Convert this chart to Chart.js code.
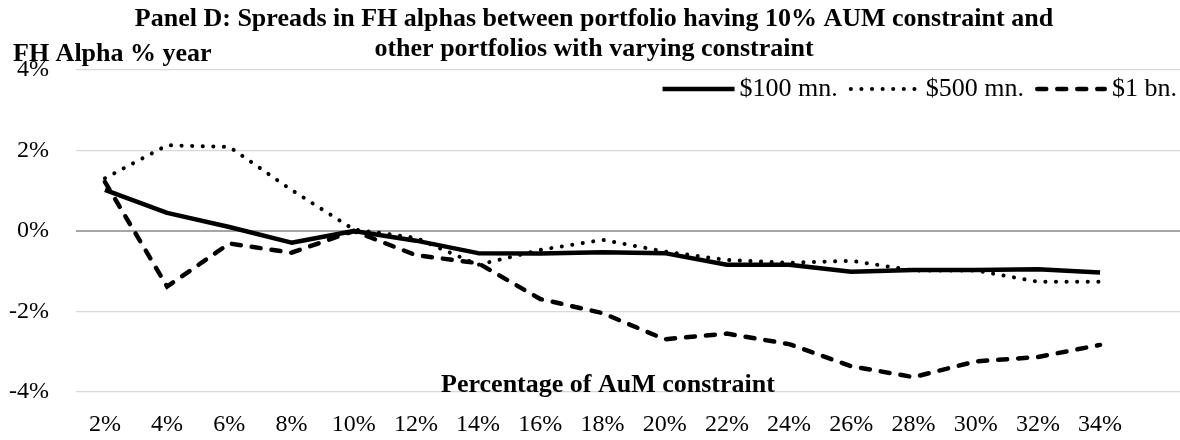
<!DOCTYPE html>
<html lang="en">
<head>
    <meta charset="UTF-8">
    <title>Panel D: Spreads in FH alphas</title>
    <script src="https://cdn.jsdelivr.net/npm/chart.js"></script>
    <style>
        html, body {
            margin: 0;
            padding: 0;
            background: #fff;
        }
        .chart-container {
            width: 1180px;
            height: 440px;
            position: relative;
        }
    </style>
</head>
<body>

    <div class="chart-container">
        <canvas id="alphaChart"></canvas>
    </div>

    <script>
        // AuM constraint (%) on the x axis
        const constraintPct = [2, 4, 6, 8, 10, 12, 14, 16, 18, 20, 22, 24, 26, 28, 30, 32, 34];

        // FH alpha spreads, % per year
        const spread100mn = [1.02, 0.45, 0.1, -0.29, 0, -0.24, -0.55, -0.56, -0.53, -0.55, -0.84, -0.84, -1.01, -0.97, -0.97, -0.95, -1.03];
        const spread500mn = [1.31, 2.13, 2.09, 1.02, 0.04, -0.17, -0.84, -0.47, -0.22, -0.51, -0.72, -0.79, -0.74, -0.98, -0.98, -1.26, -1.26];
        const spread1bn   = [1.22, -1.38, -0.31, -0.54, 0, -0.6, -0.8, -1.69, -2.04, -2.69, -2.55, -2.81, -3.36, -3.63, -3.24, -3.13, -2.83];

        const seriesNames = ['$100 mn.', '$500 mn.', '$1 bn.'];
        const yTicks = [-4, -2, 0, 2, 4];

        const serif = "'Liberation Serif', 'Times New Roman', serif";

        function toPoints(values) {
            return values.map((v, i) => ({ x: constraintPct[i], y: v }));
        }

        // axis titles and legend sit inside the plot like in the Excel original
        const excelExtras = {
            id: 'excelExtras',
            afterDraw(chart) {
                const ctx = chart.ctx;
                const area = chart.chartArea;
                ctx.save();
                ctx.fillStyle = '#000';
                ctx.strokeStyle = '#000';
                ctx.font = 'bold 26px ' + serif;
                ctx.textBaseline = 'alphabetic';
                ctx.textAlign = 'left';
                ctx.fillText('FH Alpha % year', 13, area.top - 9);
                ctx.textAlign = 'center';
                ctx.fillText('Percentage of AuM constraint', area.left + 532, area.bottom);

                // legend: short line sample + label, right aligned
                const lineLen = 72, textGap = 5, itemGap = 11;
                ctx.font = '26px ' + serif;
                const sets = chart.data.datasets;
                let total = 0;
                sets.forEach((ds, i) => {
                    total += lineLen + textGap + ctx.measureText(ds.label).width;
                    if (i > 0) total += itemGap;
                });
                let x = area.right - 3 - total;
                const y = area.top + 19;
                ctx.textAlign = 'left';
                ctx.textBaseline = 'middle';
                sets.forEach(ds => {
                    const cap = ds.borderCapStyle || 'butt';
                    const inset = cap === 'round' ? ds.borderWidth / 2 : 0;
                    ctx.lineWidth = ds.borderWidth;
                    ctx.lineCap = cap;
                    ctx.setLineDash(ds.borderDash || []);
                    ctx.beginPath();
                    ctx.moveTo(x + inset, y);
                    ctx.lineTo(x + lineLen - inset, y);
                    ctx.stroke();
                    ctx.setLineDash([]);
                    x += lineLen + textGap;
                    ctx.fillText(ds.label, x, y);
                    x += ctx.measureText(ds.label).width + itemGap;
                });
                ctx.restore();
            }
        };

        const ctx = document.getElementById('alphaChart').getContext('2d');
        const alphaChart = new Chart(ctx, {
            type: 'line',
            data: {
                datasets: [{
                    label: seriesNames[0],
                    data: toPoints(spread100mn),
                    borderColor: '#000',
                    borderWidth: 4.5,
                    borderJoinStyle: 'round',
                    pointRadius: 0
                }, {
                    label: seriesNames[1],
                    data: toPoints(spread500mn),
                    borderColor: '#000',
                    borderWidth: 4,
                    borderDash: [0.1, 10.5],
                    borderCapStyle: 'round',
                    pointRadius: 0
                }, {
                    label: seriesNames[2],
                    data: toPoints(spread1bn),
                    borderColor: '#000',
                    borderWidth: 4.5,
                    borderDash: [9, 11],
                    borderCapStyle: 'round',
                    pointRadius: 0
                }]
            },
            options: {
                responsive: true,
                maintainAspectRatio: false,
                animation: false,
                layout: {
                    padding: { left: 8, right: 0, top: 0, bottom: 1 }
                },
                plugins: {
                    title: {
                        display: true,
                        text: ['Panel D: Spreads in FH alphas between portfolio having 10% AUM constraint and',
                               'other portfolios with varying constraint'],
                        color: '#000',
                        font: { family: serif, size: 26, weight: 'bold', lineHeight: 1.154 },
                        padding: { top: 4, bottom: 6 }
                    },
                    legend: { display: false },
                    tooltip: { enabled: false }
                },
                scales: {
                    x: {
                        type: 'linear',
                        min: 1.07,
                        max: 36.57,
                        afterBuildTicks(scale) {
                            scale.ticks = constraintPct.map(v => ({ value: v }));
                        },
                        afterFit(scale) {
                            scale.height = 47;
                        },
                        grid: { display: false, drawTicks: false },
                        border: { display: false },
                        ticks: {
                            padding: 18,
                            color: '#000',
                            font: { family: serif, size: 24 },
                            maxRotation: 0,
                            autoSkip: false,
                            callback: v => v + '%'
                        }
                    },
                    y: {
                        min: -4,
                        max: 4,
                        afterBuildTicks(scale) {
                            scale.ticks = yTicks.map(v => ({ value: v }));
                        },
                        afterFit(scale) {
                            scale.width = 68;
                        },
                        border: { display: false },
                        grid: {
                            drawTicks: false,
                            color: c => c.tick && c.tick.value === 0 ? '#a6a6a6' : '#d9d9d9',
                            lineWidth: c => c.tick && c.tick.value === 0 ? 2 : 1.2
                        },
                        ticks: {
                            padding: 27,
                            color: '#000',
                            font: { family: serif, size: 24 },
                            callback: v => v + '%'
                        }
                    }
                }
            },
            plugins: [excelExtras]
        });
    </script>
</body>
</html>
